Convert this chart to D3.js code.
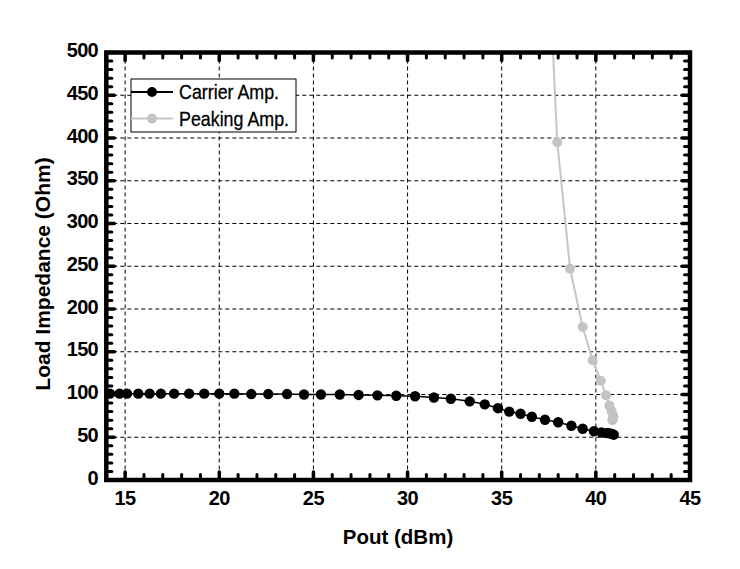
<!DOCTYPE html>
<html><head><meta charset="utf-8">
<script src="https://cdn.jsdelivr.net/npm/d3@7"></script>
<style>body{margin:0;background:#fff}</style>
</head><body>
<svg id="c" width="740" height="569"></svg>
<script>
const carrierX = [14.2,14.7,15.1,15.7,16.3,16.9,17.6,18.4,19.2,20.0,20.8,21.7,22.6,23.6,24.5,25.4,26.4,27.4,28.4,29.4,30.4,31.4,32.3,33.3,34.1,34.8,35.4,36.0,36.6,37.3,38.0,38.7,39.3,39.9,40.3,40.6,40.75,40.85,40.95];
const carrierY = [101,101,101,101,101,101,101,101,101,101,101,100.5,100.5,100.5,100,100,100,99.5,99,98.5,98,96.5,95,92,88.5,84,80,77.5,74,70.5,67.5,63.5,60,57,55.5,55,54.5,54,53];
const peakX = [37.3,37.95,38.63,39.3,39.83,40.26,40.54,40.72,40.84,40.93,40.9,40.88];
const peakY = [700,395,247,179,140,116,99,87,80.5,74.6,71.5,70];
const xTicks = [15,20,25,30,35,40,45];
const yTicks = [0,50,100,150,200,250,300,350,400,450,500];
const legendLabels = ["Carrier Amp.","Peaking Amp."];

const svg = d3.select("#c");
const L=106.3,R=690,T=52.5,B=480;
const x = d3.scaleLinear().domain([14,45]).range([L,R]);
const y = d3.scaleLinear().domain([0,500]).range([B,T]);

svg.append("clipPath").attr("id","clip").append("rect")
  .attr("x",L).attr("y",T).attr("width",R-L).attr("height",B-T);

// grid
const g = svg.append("g");
g.selectAll(".gx").data(xTicks.filter(d=>d<45)).enter().append("line")
  .attr("x1",d=>x(d)).attr("x2",d=>x(d)).attr("y1",T).attr("y2",B)
  .attr("stroke","#000").attr("stroke-width",1).attr("stroke-dasharray","4,3");
g.selectAll(".gy").data(yTicks.filter(d=>d>0&&d<500)).enter().append("line")
  .attr("y1",d=>y(d)).attr("y2",d=>y(d)).attr("x1",L).attr("x2",R)
  .attr("stroke","#000").attr("stroke-width",1).attr("stroke-dasharray","4,3");

// ticks (inward, all sides)
const xMinor = d3.range(15,45,1).filter(d=>d%5!==0);
const yMinor = d3.range(10,500,10).filter(d=>d%50!==0);
function tk(sel, data, orient, len, w){
  sel.selectAll(null).data(data).enter().append("line")
    .attr("stroke","#000").attr("stroke-width",w).attr("stroke-linecap","round")
    .each(function(d){
      const s=d3.select(this);
      if(orient==="b"){s.attr("x1",x(d)).attr("x2",x(d)).attr("y1",B).attr("y2",B-len);}
      if(orient==="t"){s.attr("x1",x(d)).attr("x2",x(d)).attr("y1",T).attr("y2",T+len);}
      if(orient==="l"){s.attr("y1",y(d)).attr("y2",y(d)).attr("x1",L).attr("x2",L+len);}
      if(orient==="r"){s.attr("y1",y(d)).attr("y2",y(d)).attr("x1",R).attr("x2",R-len);}
    });
}
const tg = svg.append("g");
["b","t"].forEach(o=>{tk(tg,xTicks,o,8,3.5);tk(tg,xMinor,o,5.5,3);});
["l","r"].forEach(o=>{tk(tg,yTicks,o,8,3.5);tk(tg,yMinor,o,5.5,3);});

// data
const plot = svg.append("g").attr("clip-path","url(#clip)");
const peak = peakX.map((v,i)=>[v,peakY[i]]);
const carr = carrierX.map((v,i)=>[v,carrierY[i]]);
const line = d3.line().x(d=>x(d[0])).y(d=>y(d[1]));
plot.append("path").datum(peak).attr("d",line).attr("fill","none").attr("stroke","#c6c6c6").attr("stroke-width",2);
plot.selectAll(".pp").data(peak).enter().append("circle")
  .attr("cx",d=>x(d[0])).attr("cy",d=>y(d[1])).attr("r",5).attr("fill","#c3c3c3");
plot.append("path").datum(carr).attr("d",line).attr("fill","none").attr("stroke","#000").attr("stroke-width",1.5);
plot.selectAll(".cp").data(carr).enter().append("circle")
  .attr("cx",d=>x(d[0])).attr("cy",d=>y(d[1])).attr("r",5.2).attr("fill","#000");

// frame
svg.append("rect").attr("x",L).attr("y",T).attr("width",R-L).attr("height",B-T)
  .attr("fill","none").attr("stroke","#000").attr("stroke-width",4.5);

// tick labels
const font = "'Liberation Sans', Arial, sans-serif";
svg.selectAll(".xl").data(xTicks).enter().append("text")
  .attr("x",d=>x(d)).attr("y",505).attr("text-anchor","middle")
  .attr("font-family",font).attr("font-weight","bold").attr("font-size",20)
  .attr("letter-spacing",-0.5).text(d=>d);
svg.selectAll(".yl").data(yTicks).enter().append("text")
  .attr("x",98).attr("y",d=>y(d)+4.5).attr("text-anchor","end")
  .attr("font-family",font).attr("font-weight","bold").attr("font-size",20)
  .attr("letter-spacing",-0.7).text(d=>d);

// axis titles
svg.append("text").attr("x",398).attr("y",544).attr("text-anchor","middle")
  .attr("font-family",font).attr("font-weight","bold").attr("font-size",20.5).text("Pout (dBm)");
svg.append("text").attr("transform","translate(50,274) rotate(-90)").attr("text-anchor","middle")
  .attr("font-family",font).attr("font-weight","bold").attr("font-size",21).text("Load Impedance (Ohm)");

// legend
const lg = svg.append("g");
lg.append("rect").attr("x",131).attr("y",79).attr("width",165).attr("height",53)
  .attr("fill","#fff").attr("stroke","#000").attr("stroke-width",1);
const lc = ["#000","#c3c3c3"], ll=["#000","#c6c6c6"];
legendLabels.forEach((t,i)=>{
  const yy = 92 + i*26.5;
  lg.append("line").attr("x1",131).attr("x2",173).attr("y1",yy).attr("y2",yy).attr("stroke",ll[i]).attr("stroke-width",i?2:1.8);
  lg.append("circle").attr("cx",152).attr("cy",yy).attr("r",5).attr("fill",lc[i]);
  lg.append("text").attr("transform",`translate(179,${yy+7}) scale(0.85,1)`)
    .attr("font-family","'Liberation Sans',sans-serif")
    .attr("font-size",21).attr("fill","#000").attr("stroke","#000").attr("stroke-width",0.3).text(t);
});
</script>
</body></html>
